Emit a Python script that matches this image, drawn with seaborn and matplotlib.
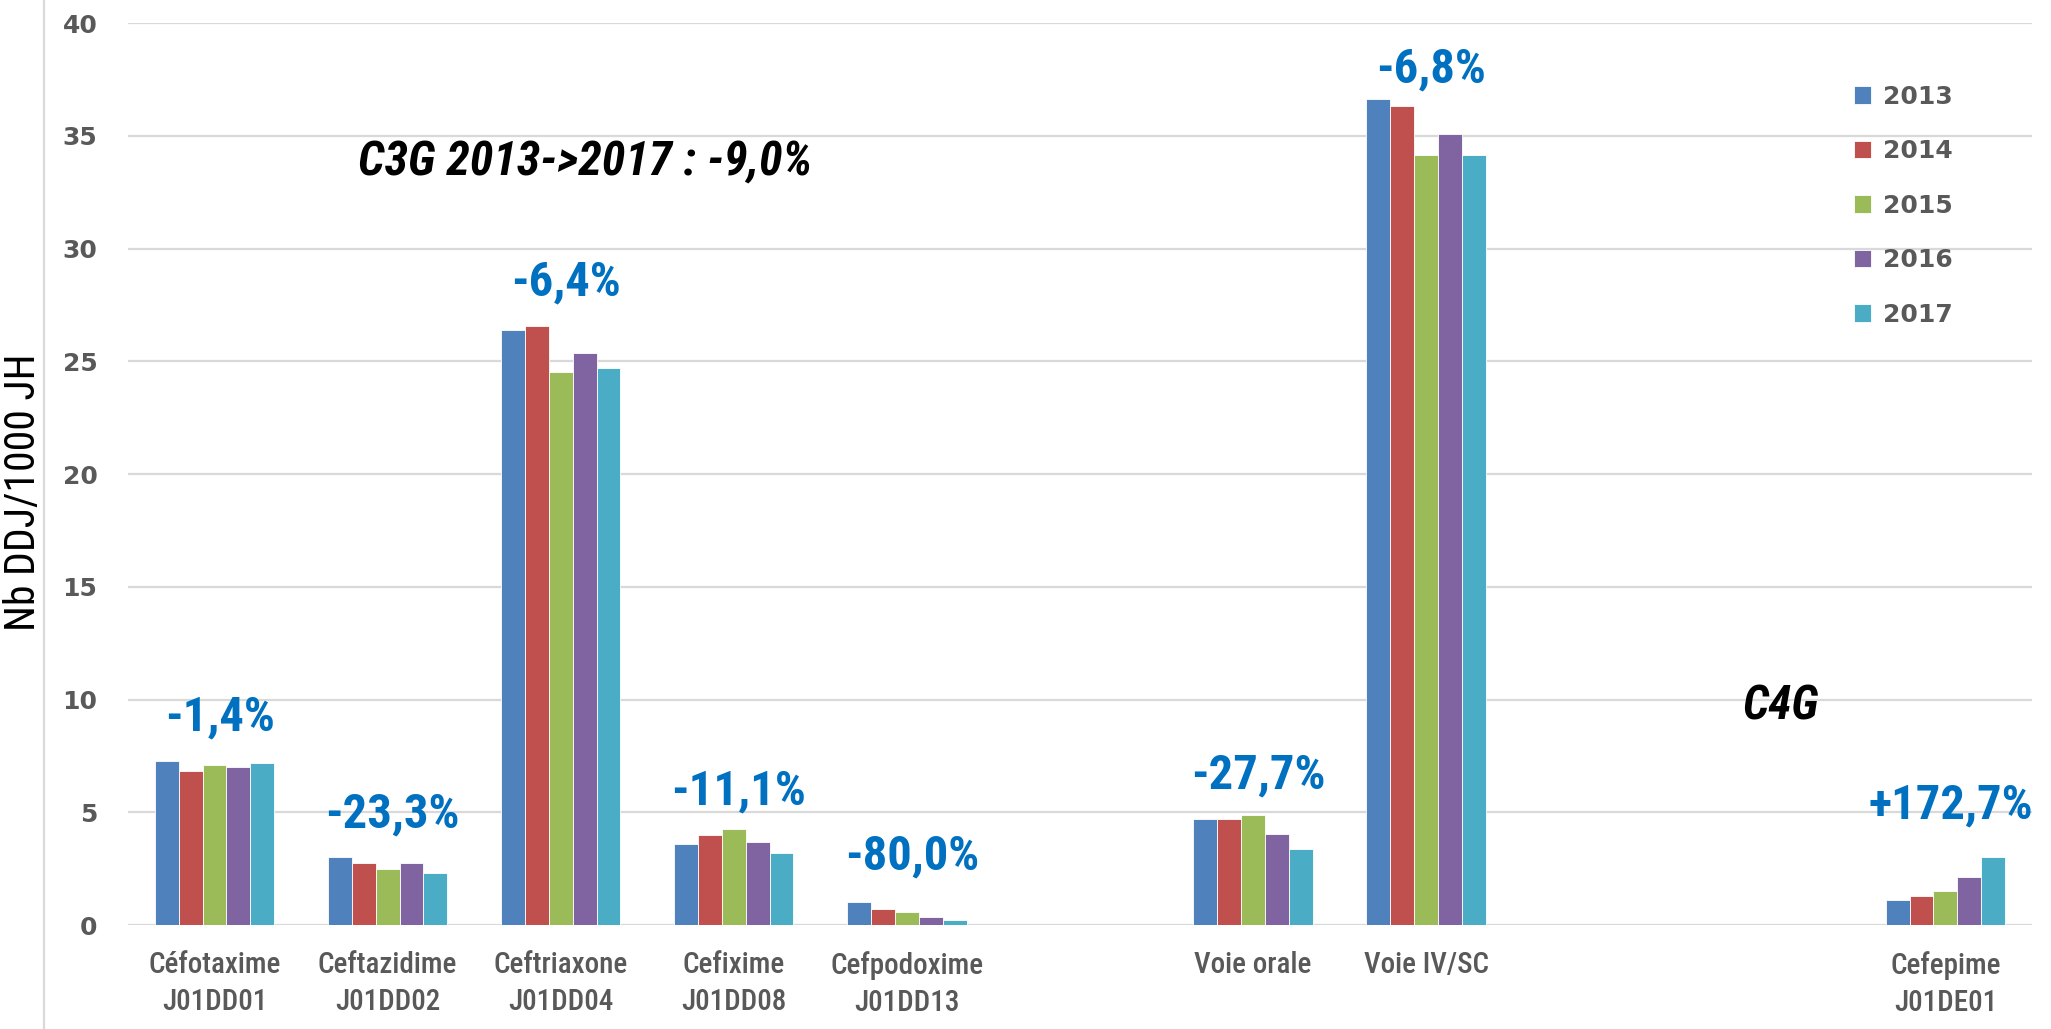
import numpy as np
import pandas as pd
import matplotlib
matplotlib.use("Agg")
import matplotlib.pyplot as plt
import seaborn as sns
from matplotlib.lines import Line2D

# --- data (Nb DDJ / 1000 JH) ---
categories = ["Céfotaxime\nJ01DD01", "Ceftazidime\nJ01DD02", "Ceftriaxone\nJ01DD04",
              "Cefixime\nJ01DD08", "Cefpodoxime\nJ01DD13", "Voie orale", "Voie IV/SC",
              "Cefepime\nJ01DE01"]
years = ["2013", "2014", "2015", "2016", "2017"]
v2013 = [7.26, 3.00, 26.38, 3.58, 1.04, 4.70, 36.64, 1.10]
v2014 = [6.85, 2.75, 26.55, 4.01, 0.70, 4.70, 36.30, 1.27]
v2015 = [7.09, 2.50, 24.52, 4.26, 0.58, 4.87, 34.15, 1.52]
v2016 = [7.01, 2.75, 25.39, 3.67, 0.35, 4.04, 35.07, 2.12]
v2017 = [7.17, 2.30, 24.70, 3.18, 0.21, 3.38, 34.15, 3.00]
evolution = ["-1,4%", "-23,3%", "-6,4%", "-11,1%", "-80,0%", "-27,7%", "-6,8%", "+172,7%"]
colors = ["#4F81BD", "#C0504D", "#9BBB59", "#8064A2", "#4BACC6"]

# empty slots on the category axis
slot_order = categories[:5] + [" "] + categories[5:7] + ["  ", "   "] + categories[7:]
# gap between the tallest bar and its % label (data units)
label_gap = [1.95, 1.9, 1.95, 1.65, 2.0, 1.75, 1.3, 2.3]

df = pd.DataFrame({
    "cat": categories * 5,
    "year": np.repeat(years, len(categories)),
    "val": v2013 + v2014 + v2015 + v2016 + v2017,
})

sns.set_style("white")
narrow = ["Liberation Sans Narrow", "Roboto Condensed", "Lato", "DejaVu Sans"]
plt.rcParams["font.family"] = ["DejaVu Sans"]

fig = plt.figure(figsize=(20.51, 10.29), dpi=100)
ax = fig.add_axes([0.0624, 0.101, 0.9283, 0.8766])

sns.barplot(data=df, x="cat", y="val", hue="year", order=slot_order, hue_order=years,
            palette=colors, saturation=1, width=0.69, edgecolor="white", linewidth=0.6,
            ax=ax)

ax.set_ylim(0, 40)
ax.set_yticks(range(0, 41, 5))
ax.set_xlabel("")
ax.set_ylabel("")
for s in ax.spines.values():
    s.set_visible(False)
ax.yaxis.grid(True, color="#D9D9D9", linewidth=1.6)
ax.set_axisbelow(True)
ax.tick_params(axis="both", length=0)
ax.tick_params(axis="y", pad=22, labelsize=18, labelcolor="#595959")
ax.tick_params(axis="x", pad=19, labelsize=21, labelcolor="#595959")
for t in ax.get_yticklabels():
    t.set_fontweight("bold")
for t in ax.get_xticklabels():
    t.set_fontfamily(narrow)
    t.set_fontweight("medium")
    t.set_linespacing(1.4)

# evolution labels above each group
for cat, txt, gap, a, b, c, d, e in zip(categories, evolution, label_gap,
                                        v2013, v2014, v2015, v2016, v2017):
    xi = slot_order.index(cat)
    ax.text(xi + 0.03, max(a, b, c, d, e) + gap, txt, ha="center", va="center",
            fontsize=35, fontweight="bold", color="#0070C0", family=narrow)

ax.text(0.83, 33.85, "C3G 2013->2017 : -9,0%", ha="left", va="center", fontsize=34.5,
        fontweight="bold", fontstyle="italic", color="black", family=narrow)
ax.text(9.05, 9.7, "C4G", ha="center", va="center", fontsize=34,
        fontweight="bold", fontstyle="italic", color="black", family=narrow)

# legend on the right
handles, labels = ax.get_legend_handles_labels()
ax.get_legend().remove()
leg = fig.legend(handles, labels, loc="upper left", bbox_to_anchor=(0.8978, 0.930),
                 frameon=False, fontsize=18, handlelength=0.7, handleheight=0.7,
                 handletextpad=0.45, labelspacing=1.22, borderpad=0)
for t in leg.get_texts():
    t.set_color("#595959")
    t.set_fontweight("bold")

fig.text(0.0117, 0.522, "Nb DDJ/1000 JH", rotation=90, ha="center", va="center",
         fontsize=30, color="black", family=narrow)
fig.add_artist(Line2D([0.0215, 0.0215], [0, 1], color="#D9D9D9", linewidth=1.6))

fig.savefig("out.png", dpi=100)
